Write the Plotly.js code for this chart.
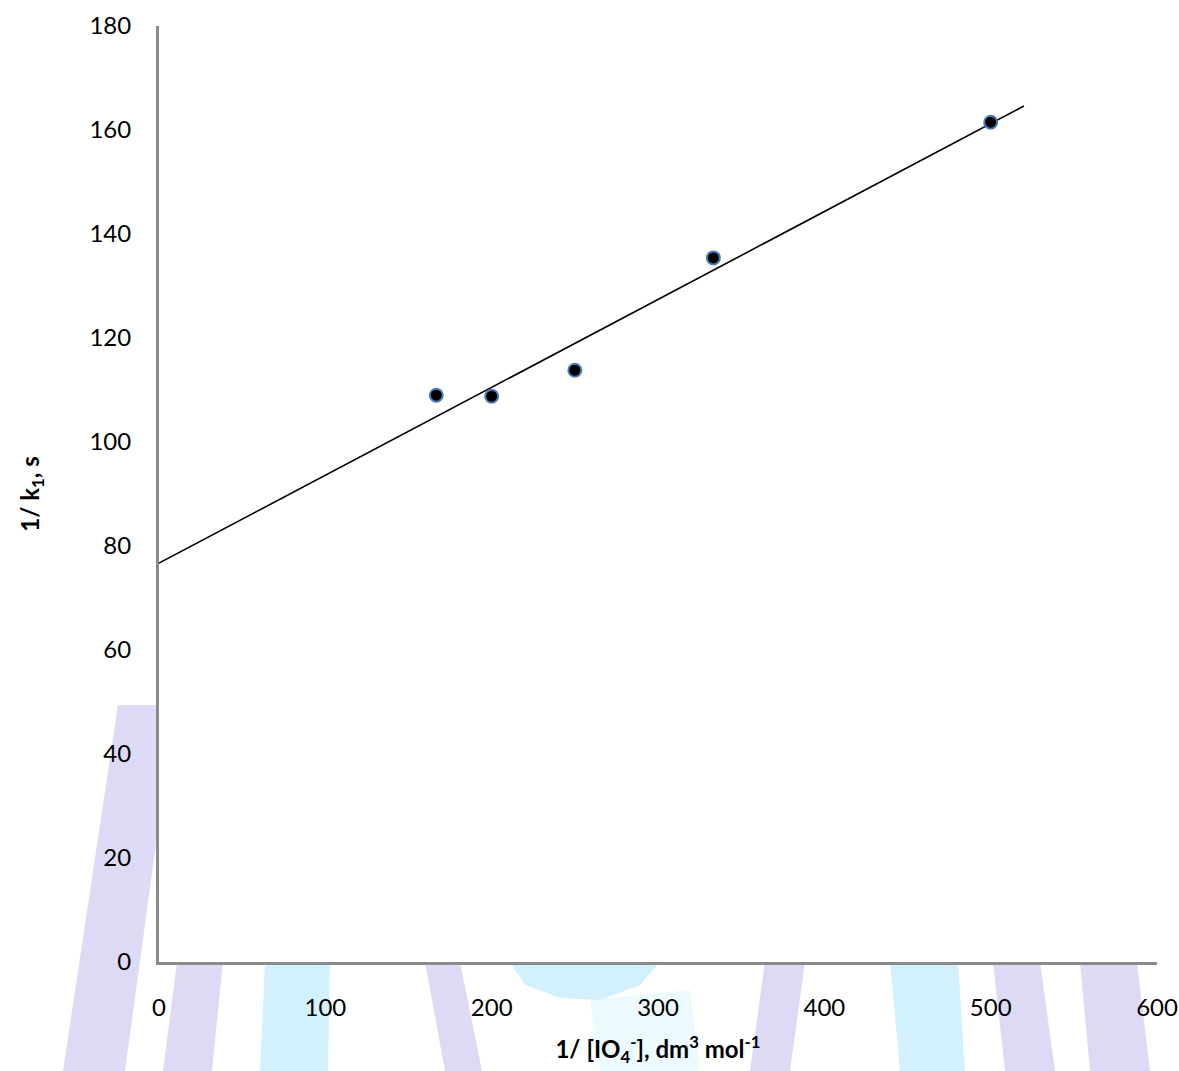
<!DOCTYPE html>
<html>
<head>
<meta charset="utf-8">
<script src="https://cdn.plot.ly/plotly-3.0.1.min.js"></script>
<style>
  html, body { margin: 0; padding: 0; background: #ffffff; }
  #chart { width: 1179px; height: 1071px; }
</style>
</head>
<body>
<div id="chart"></div>
<script>
// ---- data ----
const invIO4 = [166.7, 200, 250, 333.3, 500];          // 1/[IO4-], dm3 mol-1
const invK1  = [109.0, 108.8, 113.8, 135.4, 161.5];     // 1/k1, s
const fitX   = [0, 520];                                // fitted straight line
const fitY   = [76.7, 164.6];
const xTicks = [0, 100, 200, 300, 400, 500, 600];
const yTicks = [0, 20, 40, 60, 80, 100, 120, 140, 160, 180];

// ---- page geometry (pixels) ----
const W = 1179, H = 1071;
const M = { l: 159, r: 22, t: 26, b: 109 };
const PW = W - M.l - M.r, PH = H - M.t - M.b;
const px = x => (x - M.l) / PW;          // pixel -> paper
const py = y => (H - M.b - y) / PH;

// faint background watermark bands (outside the plot area only)
const LAV = 'rgba(200,194,238,0.6)';
const CYA = 'rgba(180,232,250,0.6)';
function poly(pts, color) {
  const d = pts.map((p, i) => (i ? 'L' : 'M') + px(p[0]).toFixed(5) + ',' + py(p[1]).toFixed(5)).join(' ') + ' Z';
  return { type: 'path', xref: 'paper', yref: 'paper', path: d, fillcolor: color,
           line: { width: 0 }, layer: 'below' };
}
const shapes = [
  poly([[118,705],[175,705],[125,1071],[63,1071]], LAV),
  poly([[177,962],[223,962],[212,1071],[163,1071]], LAV),
  poly([[265,962],[330,962],[328,1071],[260,1071]], CYA),
  poly([[425,962],[460,962],[482,1071],[445,1071]], LAV),
  poly([[510,962],[660,962],[640,985],[600,1000],[560,998],[525,985]], CYA),
  poly([[590,1000],[690,990],[700,1071],[600,1071]], 'rgba(200,240,252,0.35)'),
  poly([[765,962],[805,962],[790,1071],[750,1071]], LAV),
  poly([[890,962],[958,962],[965,1071],[900,1071]], CYA),
  poly([[993,962],[1040,962],[1055,1071],[1005,1071]], LAV),
  poly([[1080,962],[1137,962],[1150,1071],[1090,1071]], LAV),
  // white plot area on top of the watermark
  { type: 'rect', xref: 'paper', yref: 'paper', x0: 0, x1: 1, y0: 0, y1: 1,
    fillcolor: '#ffffff', line: { width: 0 }, layer: 'below' }
];

const FONT = 'Lato, "Open Sans", "DejaVu Sans", sans-serif';

const traces = [
  {
    x: fitX, y: fitY, type: 'scatter', mode: 'lines',
    line: { color: '#000000', width: 1.6 }, hoverinfo: 'skip', showlegend: false
  },
  {
    x: invIO4, y: invK1, type: 'scatter', mode: 'markers',
    marker: { color: '#000000', size: 13, line: { color: '#4a7ebb', width: 2 } },
    showlegend: false
  }
];

const layout = {
  width: W, height: H,
  margin: M,
  paper_bgcolor: 'rgba(0,0,0,0)',
  plot_bgcolor: '#ffffff',
  showlegend: false,
  font: { family: FONT, color: '#000000', size: 24 },
  shapes: shapes,
  xaxis: {
    range: [0, 600], tickvals: xTicks, ticktext: xTicks.map(String),
    showgrid: false, zeroline: false, showline: true,
    linecolor: '#8a8a8a', linewidth: 3,
    ticks: 'outside', ticklen: 22, tickcolor: 'rgba(0,0,0,0)',
    tickfont: { family: FONT, size: 24, color: '#000000' },
    title: { text: '<b>1/ [IO<sub>4</sub><sup>-</sup>], dm<sup>3</sup> mol<sup>-1</sup></b>',
             font: { family: FONT, size: 24, color: '#000000' }, standoff: 22 },
    fixedrange: true
  },
  yaxis: {
    range: [0, 180], tickvals: yTicks, ticktext: yTicks.map(String),
    showgrid: false, zeroline: false, showline: true,
    linecolor: '#8a8a8a', linewidth: 3,
    ticks: 'outside', ticklen: 20, tickcolor: 'rgba(0,0,0,0)',
    tickfont: { family: FONT, size: 24, color: '#000000' },
    title: { text: '<b>1/ k<sub>1</sub>, s</b>',
             font: { family: FONT, size: 24, color: '#000000' }, standoff: 44 },
    fixedrange: true
  }
};

Plotly.newPlot('chart', traces, layout, { staticPlot: true, displayModeBar: false });
</script>
</body>
</html>
